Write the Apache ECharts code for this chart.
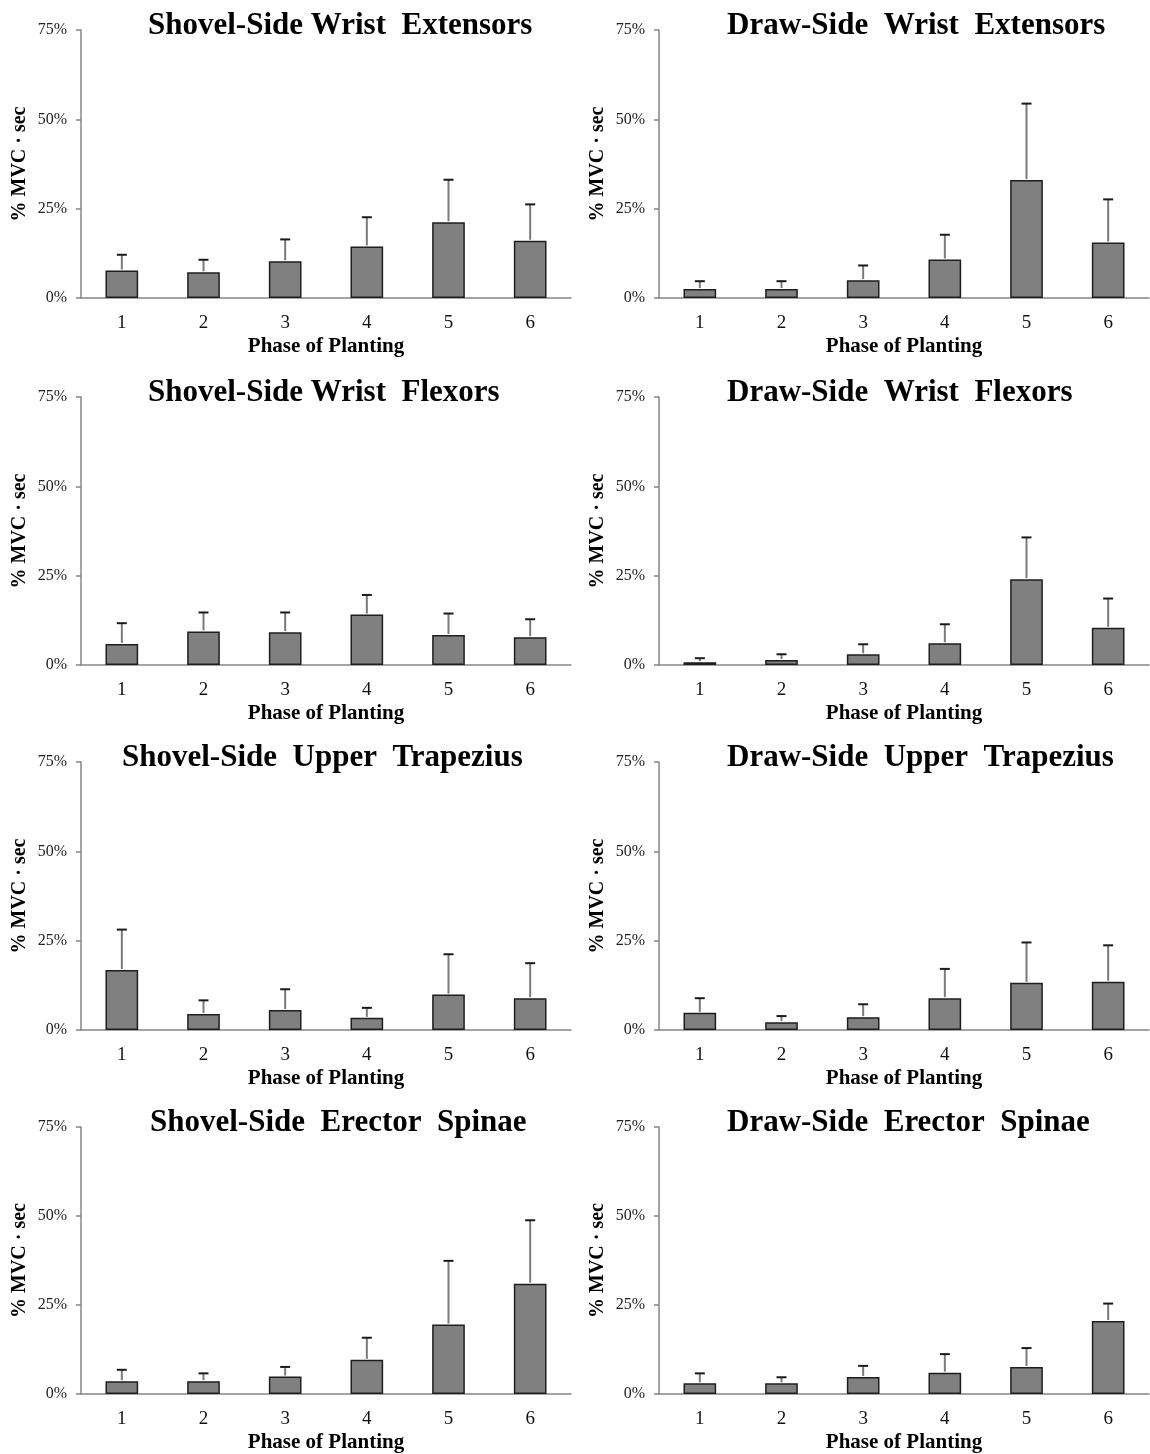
<!DOCTYPE html>
<html>
<head>
<meta charset="utf-8">
<script src="https://cdn.jsdelivr.net/npm/echarts@6/dist/echarts.min.js"></script>
<style>
html,body{margin:0;padding:0;background:#fff;}
#chart{width:1150px;height:1454px;}
</style>
</head>
<body>
<div id="chart"></div>
<script>
const categories = ['1','2','3','4','5','6'];
const yTicks = [0, 25, 50, 75];

const titles = [
  'Shovel-Side Wrist  Extensors', 'Draw-Side  Wrist  Extensors',
  'Shovel-Side Wrist  Flexors', 'Draw-Side  Wrist  Flexors',
  'Shovel-Side  Upper  Trapezius', 'Draw-Side  Upper  Trapezius',
  'Shovel-Side  Erector  Spinae', 'Draw-Side  Erector  Spinae'
];

// means (% MVC·sec) and error (SD) per panel
const shovelWristExtMean = [7.7, 7.2, 10.3, 14.4, 21.2, 16.0];
const shovelWristExtErr  = [4.4, 3.5, 6.1, 8.2, 11.9, 10.2];
const drawWristExtMean   = [2.5, 2.5, 5.0, 10.8, 33.0, 15.5];
const drawWristExtErr    = [2.2, 2.2, 4.1, 6.9, 21.4, 12.1];
const shovelWristFlxMean = [5.9, 9.4, 9.2, 14.1, 8.4, 7.8];
const shovelWristFlxErr  = [5.8, 5.3, 5.5, 5.5, 6.0, 5.0];
const drawWristFlxMean   = [0.8, 1.4, 3.0, 6.1, 24.0, 10.4];
const drawWristFlxErr    = [1.1, 1.6, 2.8, 5.3, 11.7, 8.2];
const shovelTrapMean     = [16.8, 4.5, 5.6, 3.4, 9.9, 8.9];
const shovelTrapErr      = [11.3, 3.8, 5.8, 2.8, 11.3, 9.8];
const drawTrapMean       = [4.8, 2.2, 3.6, 8.9, 13.2, 13.5];
const drawTrapErr        = [4.1, 1.7, 3.6, 8.2, 11.3, 10.2];
const shovelErectorMean  = [3.6, 3.6, 4.9, 9.6, 19.5, 31.0];
const shovelErectorErr   = [3.2, 2.2, 2.7, 6.2, 17.9, 17.8];
const drawErectorMean    = [3.0, 3.0, 4.8, 6.0, 7.6, 20.5];
const drawErectorErr     = [2.8, 1.7, 3.1, 5.2, 5.3, 4.9];

const panelMeans = [shovelWristExtMean, drawWristExtMean, shovelWristFlxMean, drawWristFlxMean,
                    shovelTrapMean, drawTrapMean, shovelErectorMean, drawErectorMean];
const panelErrs  = [shovelWristExtErr, drawWristExtErr, shovelWristFlxErr, drawWristFlxErr,
                    shovelTrapErr, drawTrapErr, shovelErectorErr, drawErectorErr];

const FONT = '"Liberation Serif", "Times New Roman", serif';
const colLeft = [81, 659];
const colWidth = 490;
const rowTop = [30, 397, 762, 1127];
const gridH = 268;
const titleLeft = [148, 727, 148, 727, 122, 727, 150, 727];

const grids = [], xAxes = [], yAxes = [], series = [], titleArr = [];
for (let p = 0; p < 8; p++) {
  const col = p % 2, row = Math.floor(p / 2);
  grids.push({left: colLeft[col], top: rowTop[row], width: colWidth, height: gridH, containLabel: false});
  titleArr.push({
    text: titles[p],
    left: titleLeft[p],
    top: rowTop[row] - 20,
    padding: 0,
    textStyle: {fontFamily: FONT, fontWeight: 'bold', fontSize: 31, color: '#000'}
  });
  xAxes.push({
    type: 'category', gridIndex: p, data: categories,
    name: 'Phase of Planting', nameLocation: 'middle', nameGap: 38,
    nameTextStyle: {fontFamily: FONT, fontWeight: 'bold', fontSize: 21, color: '#000'},
    axisLine: {lineStyle: {color: '#868686', width: 1.5}},
    axisTick: {show: false},
    axisLabel: {fontFamily: FONT, fontSize: 19, color: '#111', margin: 16}
  });
  yAxes.push({
    type: 'value', gridIndex: p, min: yTicks[0], max: yTicks[yTicks.length - 1], interval: 25,
    name: '% MVC · sec', nameLocation: 'middle', nameGap: 51, nameRotate: 90,
    nameTextStyle: {fontFamily: FONT, fontWeight: 'bold', fontSize: 20, color: '#000',
                    width: 200, overflow: 'none'},
    axisLine: {show: true, lineStyle: {color: '#868686', width: 1.5}},
    axisTick: {show: true, length: 5, lineStyle: {color: '#868686', width: 1.5}},
    splitLine: {show: false},
    axisLabel: {fontFamily: FONT, fontSize: 16, color: '#222', margin: 14, formatter: '{value}%'}
  });
  series.push({
    type: 'bar', xAxisIndex: p, yAxisIndex: p, barWidth: '40%',
    data: panelMeans[p],
    itemStyle: {color: '#808080', borderColor: '#1e1e1e', borderWidth: 1.5},
    silent: true, z: 2
  });
  series.push({
    type: 'custom', xAxisIndex: p, yAxisIndex: p, z: 3, silent: true,
    data: panelMeans[p].map((m, i) => [i, m, panelErrs[p][i]]),
    encode: {x: 0, y: 1},
    renderItem: function (params, api) {
      const i = api.value(0), m = api.value(1), e = api.value(2);
      const base = api.coord([i, m]);
      const top = api.coord([i, m + e]);
      return {
        type: 'group',
        children: [
          {type: 'line', shape: {x1: base[0], y1: base[1] - 1, x2: top[0], y2: top[1]},
           style: {stroke: '#7a7a7a', lineWidth: 2}},
          {type: 'line', shape: {x1: top[0] - 5, y1: top[1], x2: top[0] + 5, y2: top[1]},
           style: {stroke: '#1a1a1a', lineWidth: 2}}
        ]
      };
    }
  });
}

const chart = echarts.init(document.getElementById('chart'), null, {renderer: 'canvas'});
chart.setOption({
  backgroundColor: '#fff',
  animation: false,
  title: titleArr,
  grid: grids,
  xAxis: xAxes,
  yAxis: yAxes,
  series: series
});
</script>
</body>
</html>
